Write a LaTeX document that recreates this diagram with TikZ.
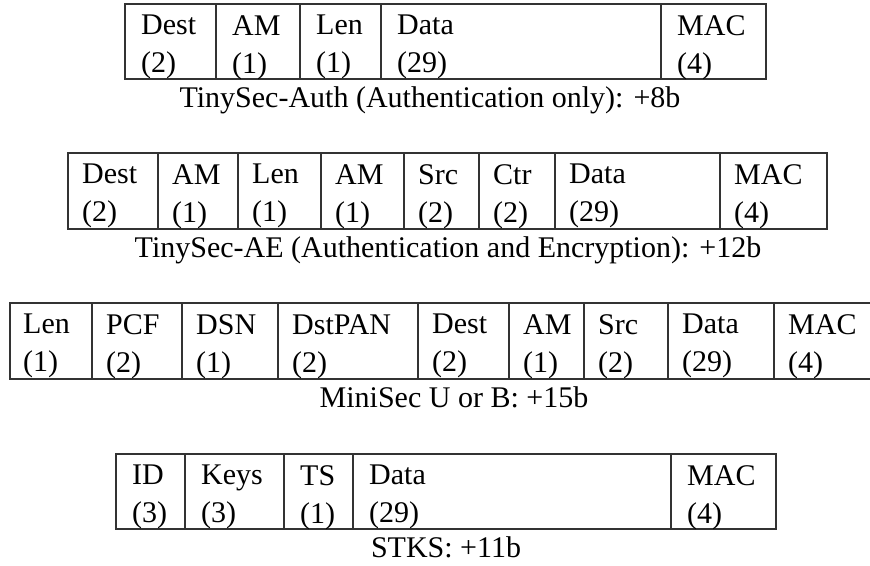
\documentclass[tikz,border=0pt]{standalone}
\usepackage{fontspec}
\setmainfont{Liberation Serif}
\tikzset{
  fld/.style={anchor=north west, align=left, inner sep=0pt, font=\fontsize{30}{38}\selectfont},
  capt/.style={anchor=base, inner sep=0pt, font=\fontsize{30}{36}\selectfont},
  frame/.style={draw=black!80, line width=1.3pt}
}
\begin{document}
\begin{tikzpicture}[x=1pt,y=-1pt]
      \useasboundingbox (0,0) rectangle (870,565);
      \draw[frame] (125,4) rectangle (766,79);
      \draw[frame] (216,4) -- (216,79) (300,4) -- (300,79) (381,4) -- (381,79) (661,4) -- (661,79);
      \node[fld] (authdest) at (141,15) {Dest\\(2)};
      \node[fld] (autham) at (232,15) {AM\\(1)};
      \node[fld] (authlen) at (316,15) {Len\\(1)};
      \node[fld] (authdata) at (397,15) {Data\\(29)};
      \node[fld] (authmac) at (677,15) {MAC\\(4)};
      \node[capt] (authcap) at (430,107) {TinySec-Auth (Authentication only): +8b};
      \draw[frame] (68,153) rectangle (827,229);
      \draw[frame] (158,153) -- (158,229) (238,153) -- (238,229) (321,153) -- (321,229) (404,153) -- (404,229);
      \draw[frame] (479,153) -- (479,229) (555,153) -- (555,229) (720,153) -- (720,229);
      \node[fld] (aedest) at (82,164) {Dest\\(2)};
      \node[fld] (aeam) at (172,164) {AM\\(1)};
      \node[fld] (aelen) at (252,164) {Len\\(1)};
      \node[fld] (aeamb) at (335,164) {AM\\(1)};
      \node[fld] (aesrc) at (418,164) {Src\\(2)};
      \node[fld] (aectr) at (493,164) {Ctr\\(2)};
      \node[fld] (aedata) at (569,164) {Data\\(29)};
      \node[fld] (aemac) at (734,164) {MAC\\(4)};
      \node[capt] (aecap) at (448,257) {TinySec-AE (Authentication and Encryption): +12b};
      \draw[frame] (875,303) -- (10,303) -- (10,379) -- (875,379);
      \draw[frame] (92,303) -- (92,379) (182,303) -- (182,379) (278,303) -- (278,379) (418,303) -- (418,379);
      \draw[frame] (509,303) -- (509,379) (584,303) -- (584,379) (668,303) -- (668,379) (774,303) -- (774,379);
      \node[fld] (minilen) at (23,314) {Len\\(1)};
      \node[fld] (minipcf) at (106,314) {PCF\\(2)};
      \node[fld] (minidsn) at (196,314) {DSN\\(1)};
      \node[fld] (minipan) at (292,314) {DstPAN\\(2)};
      \node[fld] (minidest) at (432,314) {Dest\\(2)};
      \node[fld] (miniam) at (523,314) {AM\\(1)};
      \node[fld] (minisrc) at (598,314) {Src\\(2)};
      \node[fld] (minidata) at (682,314) {Data\\(29)};
      \node[fld] (minimac) at (788,314) {MAC\\(4)};
      \node[capt] (minicap) at (454,407) {MiniSec U or B: +15b};
      \draw[frame] (116,454) rectangle (776,529);
      \draw[frame] (185,454) -- (185,529) (284,454) -- (284,529) (353,454) -- (353,529) (671,454) -- (671,529);
      \node[fld] (stksid) at (132,465) {ID\\(3)};
      \node[fld] (stkskeys) at (201,465) {Keys\\(3)};
      \node[fld] (stksts) at (300,465) {TS\\(1)};
      \node[fld] (stksdata) at (369,465) {Data\\(29)};
      \node[fld] (stksmac) at (687,465) {MAC\\(4)};
      \node[capt] (stkscap) at (446,557) {STKS: +11b};
\end{tikzpicture}
\end{document}
